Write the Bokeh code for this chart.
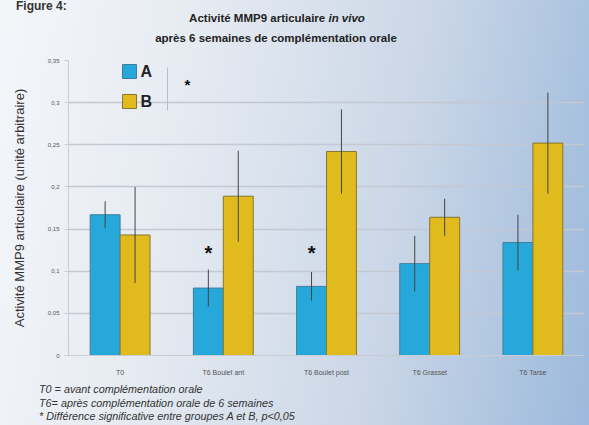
from bokeh.plotting import figure
from bokeh.models import Range1d, FixedTicker, Label, ColumnDataSource, InlineStyleSheet, Div
from bokeh.layouts import column
from bokeh.embed import file_html
from bokeh.resources import INLINE

# ---- data ----
categories = ["T0", "T6 Boulet ant", "T6 Boulet post", "T6 Grasset", "T6 Tarse"]
values_a = [0.167, 0.080, 0.082, 0.109, 0.134]
err_a = [0.016, 0.022, 0.017, 0.033, 0.033]
values_b = [0.143, 0.189, 0.242, 0.164, 0.252]
err_b = [0.057, 0.054, 0.050, 0.022, 0.060]
signif = [False, True, True, False, False]
y_ticks = [0, 0.05, 0.1, 0.15, 0.2, 0.25, 0.3, 0.35]
y_tick_labels = ["0", "0,05", "0,1", "0,15", "0,2", "0,25", "0,3", "0,35"]
title_line1 = "Activité MMP9 articulaire"
title_italic = "in vivo"
title_line2 = "après 6 semaines de complémentation orale"
notes = ["T0 = avant complémentation orale",
         "T6= après complémentation orale de 6 semaines",
         "* Différence significative entre groupes A et B, p&lt;0,05"]

FONT = "Liberation Sans"
COL_A = "#27a8db"
COL_B = "#e1ba1d"
BAR_W = 0.29
STAR_Y = 0.122

p = figure(width=589, height=322, output_backend="svg", toolbar_location=None,
           x_range=Range1d(0, 5.0), y_range=Range1d(0, 0.35),
           min_border_left=68, min_border_right=5, min_border_top=4, min_border_bottom=23)
p.border_fill_color = None
p.background_fill_color = None
p.outline_line_color = None

# axes
p.yaxis.ticker = FixedTicker(ticks=y_ticks)
p.yaxis.major_label_overrides = {t: l for t, l in zip(y_ticks, y_tick_labels)}
p.yaxis.major_label_text_font = FONT
p.yaxis.major_label_text_font_size = "6px"
p.yaxis.major_label_text_color = "#555555"
p.yaxis.axis_line_color = "#c8ccd3"
p.yaxis.major_tick_line_color = "#c8ccd3"
p.yaxis.major_tick_out = 4
p.yaxis.major_tick_in = 0
p.yaxis.minor_tick_line_color = None
p.yaxis.axis_label = "Activité MMP9 articulaire (unité arbitraire)"
p.yaxis.axis_label_text_font = FONT
p.yaxis.axis_label_text_font_size = "13px"
p.yaxis.axis_label_text_font_style = "normal"
p.yaxis.axis_label_text_color = "#333333"
p.yaxis.axis_label_standoff = 18

xc = [i + 0.5 for i in range(len(categories))]
p.xaxis.ticker = FixedTicker(ticks=xc)
p.xaxis.major_label_overrides = {x: c for x, c in zip(xc, categories)}
p.xaxis.major_label_text_font = FONT
p.xaxis.major_label_text_font_size = "7px"
p.xaxis.major_label_text_color = "#555555"
p.xaxis.major_label_standoff = 7
p.xaxis.axis_line_color = "#c8ccd3"
p.xaxis.major_tick_line_color = None
p.xaxis.minor_tick_line_color = None

p.xgrid.grid_line_color = None
p.ygrid.grid_line_color = "#c3c8d1"
p.ygrid.grid_line_width = 1.5

xa = [x - BAR_W / 2 for x in xc]
xb = [x + BAR_W / 2 for x in xc]
src = ColumnDataSource(dict(
    xa=xa, xb=xb, a=values_a, b=values_b,
    a_lo=[v - e for v, e in zip(values_a, err_a)], a_hi=[v + e for v, e in zip(values_a, err_a)],
    b_lo=[v - e for v, e in zip(values_b, err_b)], b_hi=[v + e for v, e in zip(values_b, err_b)],
))
p.vbar(x="xa", top="a", width=BAR_W, source=src, fill_color=COL_A, line_color="#3f7f9c", line_width=1)
p.vbar(x="xb", top="b", width=BAR_W, source=src, fill_color=COL_B, line_color="#85782e", line_width=1)
p.segment(x0="xa", x1="xa", y0="a_lo", y1="a_hi", source=src, line_color="#444444", line_width=1)
p.segment(x0="xb", x1="xb", y0="b_lo", y1="b_hi", source=src, line_color="#444444", line_width=1)

# significance stars
for x, s in zip(xa, signif):
    if s:
        p.add_layout(Label(x=x, y=STAR_Y, text="*", text_font=FONT, text_font_size="20px",
                           text_font_style="bold", text_align="center", text_baseline="middle",
                           text_color="#111111"))

# helpers converting page pixel positions to data coords (frame spans x 68..584, y 60..355)
def xd(px):
    return (px - 68) / 103.2

def yd(py):
    return (355 - py) / (295 / 0.35)

# legend
p.rect(x=[xd(129), xd(129)], y=[yd(71), yd(101)], width=14, height=14, width_units="screen",
       height_units="screen", fill_color=[COL_A, COL_B], line_color=["#3f7f9c", "#85782e"])
for t, yy in (("A", 71), ("B", 101)):
    p.add_layout(Label(x=xd(140), y=yd(yy), text=t, text_font=FONT, text_font_size="16px",
                       text_font_style="bold", text_baseline="middle", text_color="#222222"))
p.line(x=[xd(167), xd(167)], y=[yd(67), yd(110)], line_color="#b9bec6", line_width=1)
p.add_layout(Label(x=xd(187), y=yd(84), text="*", text_font=FONT, text_font_size="15px",
                   text_font_style="bold", text_align="center", text_baseline="middle", text_color="#111111"))

# top and bottom texts
top_html = (
    f'<div style="position:relative;width:589px;height:56px;font-family:\'{FONT}\';color:#222;">'
    f'<div style="position:absolute;left:16px;top:0px;font-size:12px;line-height:13px;font-weight:bold;color:#333;">Figure 4:</div>'
    f'<div style="position:absolute;left:0px;width:554px;top:11px;text-align:center;font-size:11.5px;line-height:14px;font-weight:bold;white-space:nowrap;">{title_line1} <i>{title_italic}</i></div>'
    f'<div style="position:absolute;left:0px;width:552px;top:31px;text-align:center;font-size:11.5px;line-height:14px;font-weight:bold;white-space:nowrap;">{title_line2}</div>'
    '</div>'
)
note_tops = [5, 19, 32]
bottom_html = (
    f'<div style="position:relative;width:589px;height:47px;font-family:\'{FONT}\';color:#333;font-style:italic;font-size:10.8px;line-height:13px;">'
    + "".join(f'<div style="position:absolute;left:39px;top:{t}px;white-space:nowrap;">{n}</div>'
              for n, t in zip(notes, note_tops))
    + '</div>'
)
top = Div(text=top_html, width=589, height=56, margin=0)
bottom = Div(text=bottom_html, width=589, height=47, margin=0)

layout = column(top, p, bottom, spacing=0, margin=0)
layout.stylesheets = [InlineStyleSheet(css=":host { background: linear-gradient(100deg, #f4f6fa 0%, #e6ebf2 30%, #cbd7e7 65%, #9cb9dc 100%); }")]

open("out.html", "w").write(file_html(layout, INLINE))
